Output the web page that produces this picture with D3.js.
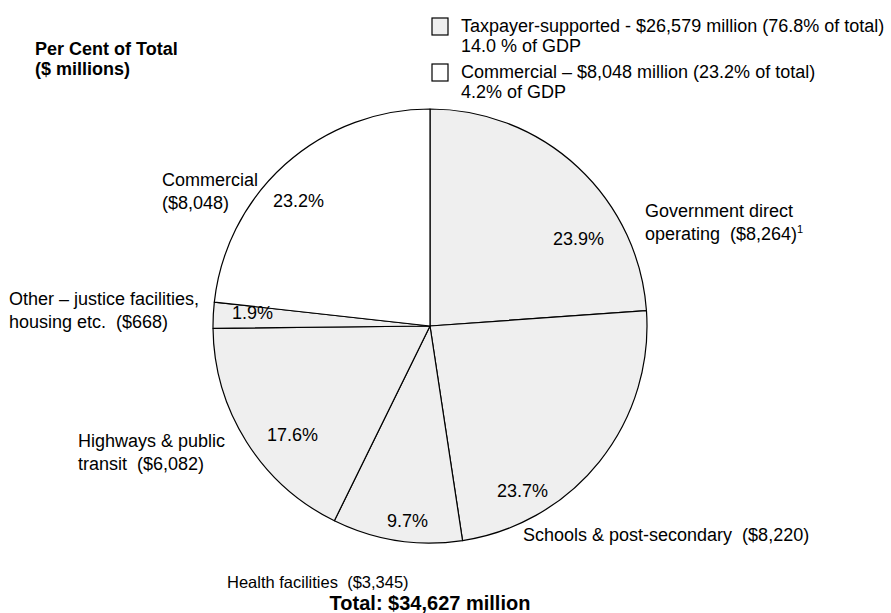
<!DOCTYPE html>
<html>
<head>
<meta charset="utf-8">
<script src="https://cdn.jsdelivr.net/npm/d3@7"></script>
<style>
  html, body { margin: 0; padding: 0; background: #fff; }
  svg { display: block; font-family: "Liberation Sans", Arial, sans-serif; }
  svg text { white-space: pre; }
</style>
</head>
<body>
<svg id="chart" width="891" height="613"></svg>
<script>
// Capital spending by sector, $ millions (clockwise from 12 o'clock)
const categories = [
  "Government direct operating",
  "Schools & post-secondary",
  "Health facilities",
  "Highways & public transit",
  "Other – justice facilities, housing etc.",
  "Commercial"
];
const values = [8264, 8220, 3345, 6082, 668, 8048];
const groups = ["taxpayer", "taxpayer", "taxpayer", "taxpayer", "taxpayer", "commercial"];
const percentLabels = ["23.9%", "23.7%", "9.7%", "17.6%", "1.9%", "23.2%"];

const legendLines = [
  ["Taxpayer-supported - $26,579 million (76.8% of total)", "14.0 % of GDP"],
  ["Commercial – $8,048 million (23.2% of total)", "4.2% of GDP"]
];
const legendGroups = ["taxpayer", "commercial"];

// Layout: where each slice's text sits
const nameLayout = [
  { x: 645, y: 217, lines: ["Government direct", "operating  ($8,264)"], sup: "1" },
  { x: 523, y: 541, lines: ["Schools & post-secondary  ($8,220)"] },
  { x: 227, y: 588, lines: ["Health facilities  ($3,345)"], size: 16.5 },
  { x: 78,  y: 447, lines: ["Highways & public", "transit  ($6,082)"] },
  { x: 9,   y: 305, lines: ["Other – justice facilities,", "housing etc.  ($668)"] },
  { x: 162, y: 186, lines: ["Commercial", "($8,048)"] }
];
const pctLayout = [
  { x: 553, y: 245 }, { x: 497, y: 497 }, { x: 387, y: 527 },
  { x: 267, y: 441 }, { x: 232, y: 319 }, { x: 273, y: 207 }
];

const fill = d3.scaleOrdinal()
  .domain(["taxpayer", "commercial"])
  .range(["#efefef", "#ffffff"]);

const svg = d3.select("#chart");
const fontSize = 18;

const cx = 430, cy = 326, radius = 217;

const pie = d3.pie().sort(null).value(d => d.value);
const arc = d3.arc().innerRadius(0).outerRadius(radius);

const data = values.map((v, i) => ({ name: categories[i], value: v, group: groups[i], i }));

const g = svg.append("g").attr("transform", `translate(${cx},${cy})`);
g.selectAll("path.slice")
  .data(pie(data))
  .join("path")
  .attr("class", "slice")
  .attr("d", arc)
  .attr("fill", d => fill(d.data.group))
  .attr("stroke", "#000")
  .attr("stroke-width", 1.2)
  .attr("stroke-linejoin", "round");

// Percent labels inside the slices
svg.selectAll("text.pct")
  .data(percentLabels)
  .join("text")
  .attr("class", "pct")
  .attr("x", (d, i) => pctLayout[i].x)
  .attr("y", (d, i) => pctLayout[i].y)
  .attr("font-size", fontSize)
  .attr("fill", "#000")
  .text(d => d);

// Category names around the pie
nameLayout.forEach(lay => {
  const t = svg.append("text")
    .attr("x", lay.x)
    .attr("y", lay.y)
    .attr("font-size", lay.size || fontSize)
    .attr("fill", "#000");
  lay.lines.forEach((line, k) => {
    t.append("tspan")
      .attr("x", lay.x)
      .attr("dy", k === 0 ? 0 : 23)
      .text(line);
  });
  if (lay.sup) {
    t.append("tspan")
      .attr("font-size", 11)
      .attr("dy", -7)
      .text(lay.sup);
  }
});

// Heading at top left
const head = svg.append("text")
  .attr("x", 35).attr("y", 55)
  .attr("font-size", fontSize)
  .attr("font-weight", "bold");
head.append("tspan").attr("x", 35).text("Per Cent of Total");
head.append("tspan").attr("x", 35).attr("dy", 20).text("($ millions)");

// Legend
const legend = svg.append("g");
legendLines.forEach((lines, i) => {
  const y0 = 18 + i * 46;
  legend.append("rect")
    .attr("x", 432).attr("y", y0)
    .attr("width", 16).attr("height", 17)
    .attr("fill", fill(legendGroups[i]))
    .attr("stroke", "#000")
    .attr("stroke-width", 1.2);
  const t = legend.append("text")
    .attr("x", 461).attr("y", y0 + 14)
    .attr("font-size", fontSize);
  lines.forEach((line, k) => {
    t.append("tspan").attr("x", 461).attr("dy", k === 0 ? 0 : 20).text(line);
  });
});

// Total
svg.append("text")
  .attr("x", 430).attr("y", 610)
  .attr("text-anchor", "middle")
  .attr("font-size", 20)
  .attr("font-weight", "bold")
  .text("Total: $" + d3.format(",")(d3.sum(values)) + " million");
</script>
</body>
</html>
